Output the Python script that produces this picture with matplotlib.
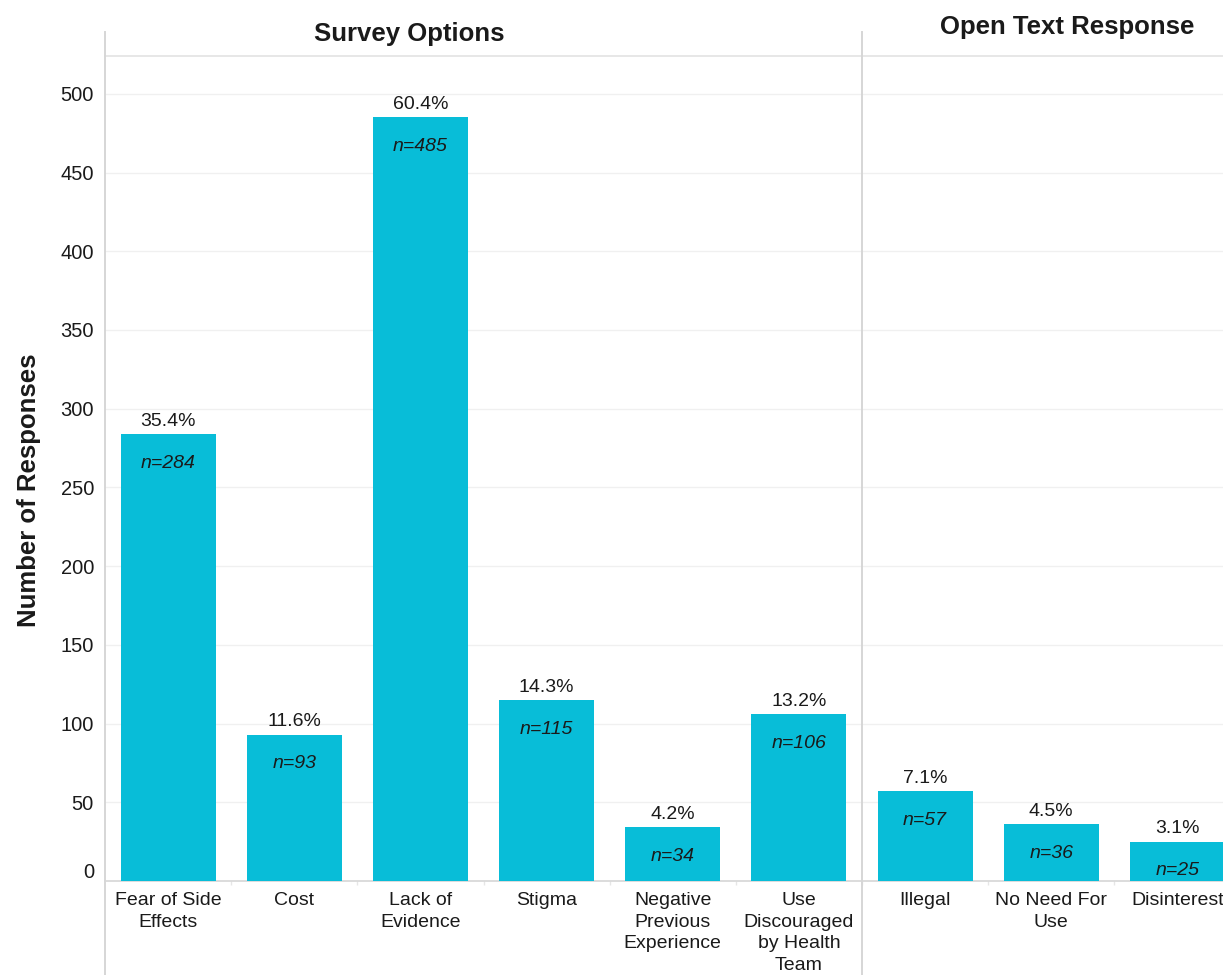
import matplotlib
matplotlib.use("Agg")
import matplotlib.pyplot as plt
from matplotlib.lines import Line2D
from matplotlib.transforms import ScaledTranslation

plt.rcParams['font.family'] = ['Liberation Sans', 'DejaVu Sans']

categories = ["Fear of Side\nEffects", "Cost", "Lack of\nEvidence", "Stigma",
              "Negative\nPrevious\nExperience", "Use\nDiscouraged\nby Health\nTeam",
              "Illegal", "No Need For\nUse", "Disinterest"]
counts = [284, 93, 485, 115, 34, 106, 57, 36, 25]
percents = ["35.4%", "11.6%", "60.4%", "14.3%", "4.2%", "13.2%", "7.1%", "4.5%", "3.1%"]
yticks = [0, 50, 100, 150, 200, 250, 300, 350, 400, 450, 500]
headers = ["Survey Options", "Open Text Response"]

W, H = 1223, 975
fig = plt.figure(figsize=(W / 100, H / 100), dpi=100)
ax_left, ax_right = 105, 1223
ax_bottom, ax_top = 881, 56
ax = fig.add_axes([ax_left / W, 1 - ax_bottom / H, (ax_right - ax_left) / W, (ax_bottom - ax_top) / H])

bar_color = "#08BDD8"
text_color = "#1a1a1a"
line_color = "#d6d6d6"

x = list(range(len(categories)))
ax.bar(x, counts, width=0.753, color=bar_color, zorder=3)

ax.set_xlim(-0.5, 8.361)
ax.set_ylim(0, 524)

ax.set_yticks(yticks)
ax.set_yticklabels([str(v) for v in yticks])
ax.set_xticks(x)
ax.set_xticklabels(categories, linespacing=1.35)
ax.set_xticks([i + 0.5 for i in range(8)], minor=True)

ax.tick_params(axis='y', length=0, pad=8, labelsize=14.5, labelcolor=text_color)
ax.tick_params(axis='x', which='major', length=0, pad=8, labelsize=14, labelcolor=text_color)
ax.tick_params(axis='x', which='minor', length=3, color="#e6e6e6", width=1)
for lab in ax.get_xticklabels():
    lab.set_verticalalignment('top')

ax.grid(axis='y', color="#f0f0f0", linewidth=1, zorder=0)
ax.set_axisbelow(True)

for s in ['left', 'right']:
    ax.spines[s].set_visible(False)
ax.spines['top'].set_color("#e3e3e3")
ax.spines['top'].set_linewidth(1.2)
ax.spines['bottom'].set_color(line_color)
ax.spines['bottom'].set_linewidth(1.2)

# shift the zero label upward like the reference
zero_lab = ax.get_yticklabels()[0]
zero_lab.set_transform(zero_lab.get_transform() + ScaledTranslation(0, 10 / 100, fig.dpi_scale_trans))

for xi, c, p in zip(x, counts, percents):
    ax.annotate(p, (xi, c), xytext=(0, 3), textcoords='offset points',
                ha='center', va='bottom', fontsize=14, color=text_color, zorder=4)
    ax.annotate(f"n={c}", (xi, c), xytext=(0, -21), textcoords='offset points',
                ha='center', va='center', fontsize=14, style='italic', color=text_color, zorder=4)

ylab = ax.set_ylabel("Number of Responses", fontsize=18.5, fontweight='bold', color=text_color,
                     va='center', ha='center')
ax.yaxis.set_label_coords((29 - ax_left) / (ax_right - ax_left), (ax_bottom - 490) / (ax_bottom - ax_top))

# vertical frame lines extending beyond the axes
for px in [105, 862]:
    fig.add_artist(Line2D([px / W, px / W], [1 - 32 / H, 0], color=line_color, linewidth=1.4))

fig.text(409 / W, 1 - 34 / H, headers[0], ha='center', va='center', fontsize=18.5,
         fontweight='bold', color=text_color)
fig.text(1067 / W, 1 - 27 / H, headers[1], ha='center', va='center', fontsize=18.5,
         fontweight='bold', color=text_color)

fig.savefig("out.png", dpi=100, facecolor='white')
